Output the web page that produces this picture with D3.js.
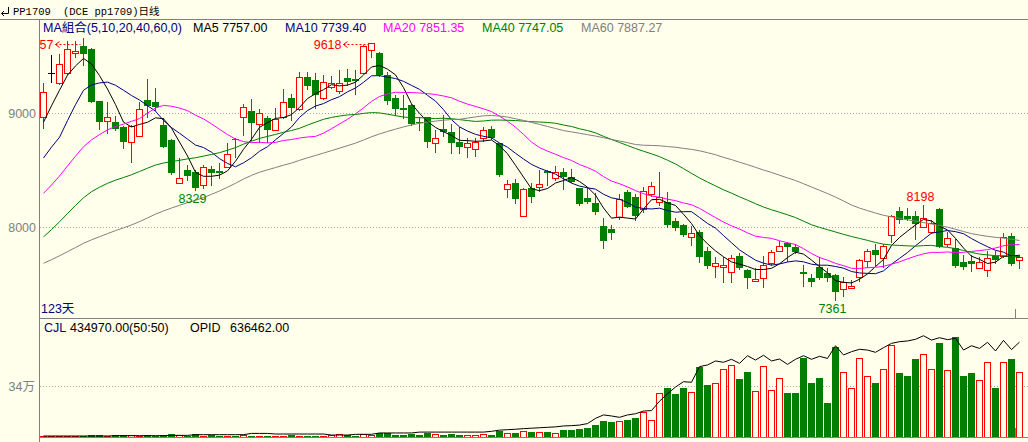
<!DOCTYPE html>
<html><head><meta charset="utf-8">
<script src="https://cdn.jsdelivr.net/npm/d3@7"></script>
<style>html,body{margin:0;padding:0;background:#FFFFEB;}svg{display:block}</style>
</head><body>
<svg id="c" width="1028" height="442"></svg>
<script>
// ---------------- data ----------------
const opens = [8970,9351,9268,9351,9530,9590,9564,9108,8935,8921,8882,8751,8804,9117,9102,8897,8766,8386,8503,8488,
8371,8509,8494,8532,8775,8965,9020,8904,8956,8853,8965,9132,9035,9316,9292,9132,9228,9198,9313,9300,
9356,9555,9532,9336,9132,9049,9073,8925,8965,8737,8862,8839,8751,8707,8684,8780,8862,8737,8333,8386,
8102,8342,8356,8494,8430,8488,8439,8342,8260,8216,8011,7985,8093,8312,8263,8158,8289,8225,8225,8058,
8023,7912,7961,7792,7663,7655,7611,7748,7626,7532,7553,7684,7795,7860,7830,7608,7553,7649,7602,7580,
7459,7470,7567,7705,7801,7728,7933,8143,8099,8099,8005,7961,8161,7853,7821,7693,7707,7646,7626,7748,
7748,7924,7715];
const highs = [9268,9511,9520,9634,9630,9657,9570,9110,9102,8980,8890,8895,9100,9298,9219,8960,8770,8605,8546,8505,
8550,8540,8567,8737,8780,9082,9123,9040,8975,9050,9210,9170,9360,9360,9356,9340,9330,9380,9390,9380,
9595,9618,9540,9365,9160,9160,9080,8965,8970,8853,8985,8905,8880,8780,8780,8880,8890,8740,8415,8421,
8345,8386,8500,8505,8540,8520,8510,8345,8342,8300,8079,8020,8290,8330,8290,8350,8400,8488,8310,8080,
8030,8011,7975,7830,7737,7737,7760,7770,7630,7640,7750,7800,7880,7875,7850,7670,7590,7743,7640,7590,
7560,7540,7720,7810,7850,7850,8110,8180,8170,8140,8198,8060,8165,7960,7900,7760,7760,7740,7790,7790,
7947,7950,7757];
const lows = [8874,9277,9257,9345,9497,9424,9095,8862,8825,8855,8696,8575,8800,8970,9029,8700,8470,8386,8415,8329,
8345,8370,8430,8525,8616,8810,8766,8750,8750,8850,8960,8940,9030,9210,9044,9125,9220,9181,9250,9170,
9350,9497,9330,9082,8985,8960,8900,8853,8707,8663,8800,8650,8650,8619,8625,8760,8775,8450,8268,8210,
8100,8225,8320,8370,8415,8340,8395,8195,8210,8120,7816,7895,8070,8175,8060,8130,8270,8195,8000,7980,
7920,7844,7698,7640,7567,7523,7520,7630,7465,7525,7480,7670,7790,7700,7770,7486,7486,7550,7530,7361,
7395,7465,7530,7650,7670,7649,7870,8040,8060,7895,8000,7950,7825,7840,7655,7630,7620,7640,7570,7690,
7740,7670,7640];
const closes = [9189,9351,9430,9561,9545,9520,9102,8926,8970,8862,8751,8891,9038,9064,9058,8707,8479,8430,8453,8342,
8532,8479,8479,8640,8765,9058,8918,9000,8853,8947,9096,9044,9316,9242,9161,9272,9263,9263,9277,9285,
9590,9614,9336,9108,9038,9029,8906,8915,8751,8780,8839,8737,8707,8737,8751,8853,8780,8459,8380,8248,
8333,8268,8377,8474,8488,8444,8400,8202,8225,8137,7882,7953,8248,8181,8099,8318,8362,8268,8020,7991,
7930,7953,7737,7661,7684,7670,7728,7640,7558,7550,7670,7781,7839,7830,7786,7588,7518,7553,7558,7435,
7523,7488,7714,7792,7758,7836,8102,8064,8070,8029,8079,8035,7830,7909,7661,7655,7675,7693,7728,7714,
7918,7678,7740];
// closes before the first visible day (estimated from where the MA lines start)
const priorCloses = [7450,7400,7380,7350,7300,7280,7300,7320,7290,7300,7380,
7250,7150,7050,7000,6980,7000,7050,7080,7100,
6800,6700,6650,6700,6850,6960,
7350,7600,7750,7850,7900,7900,7912,
7950,7980,8000,7970,7950,7950,7949,
7900,7850,7800,7820,7860,7901,
8000,8150,8250,8350,8400,8566,
8100,8150,8254,8630,
8750,8900,9140];
const volumes = [7000,7000,7000,7000,7000,7000,13000,13000,7000,13000,
13000,13000,7000,13000,7000,13000,20000,13000,9000,20000,
9000,13000,9000,9000,9000,13000,9000,9000,9000,9000,
9000,13000,9000,4000,9000,9000,13000,20000,13000,9000,
20000,13000,29000,29000,13000,13000,20000,13000,29000,20000,
13000,20000,13000,13000,13000,20000,13000,42000,25000,27000,
38000,34000,31000,34000,25000,47000,47000,54000,60000,80000,
107000,101000,105000,114000,127000,165000,112000,293000,329000,288000,
329000,300000,472000,349000,360000,454000,481000,389000,436000,306000,
474000,313000,393000,295000,295000,530000,362000,396000,228000,603000,
434000,326000,527000,407000,362000,454000,615000,429000,409000,523000,
554000,456000,630000,447000,671000,409000,429000,380000,501000,329000,
501000,523000,434970];
const openInterest = [6700,6700,6700,6700,6700,6700,6700,6700,6700,8900,
8900,8900,8900,8900,8900,8900,11000,11000,11000,15600,
15600,15600,15600,15600,15600,15600,24000,24000,24000,20000,
20000,20000,20000,20000,20000,20000,13000,13000,13000,18000,
18000,18000,27000,27000,27000,27000,27000,33000,33000,33000,
33000,33000,33000,33000,33000,33000,38000,46000,49000,52000,
56000,59000,62000,65000,68000,74000,76000,80000,90000,125000,
148000,141000,132000,148000,156000,174000,177000,240000,290000,335000,
371000,367000,472000,483000,510000,501000,521000,494000,545000,516000,
548000,510000,523000,487000,521000,545000,521000,541000,527000,612000,
550000,572000,588000,583000,568000,599000,628000,639000,644000,655000,
679000,650000,666000,653000,662000,583000,612000,594000,635000,577000,
648000,586000,636462];
const maPeriods = [5,10,20,40,60];
const maColors = ["#000000","#000080","#FF00FF","#008000","#808080"];
const maHeaderValues = ["7757.00","7739.40","7851.35","7747.05","7887.27"];
const priceTicks = [8000,9000];
const volTicks = [340000];
const volTickLabels = ["34万"];
const highLabelsArrow = [5,41];   // candle indices
const highLabelsAbove = [110];
const lowLabelsBelow = [19,99];
const titleSymbol = "PP1709", titleDesc = "(DCE pp1709)日线";
const cjlText = "434970.00(50:50)", opidText = "636462.00", daysText = "123天";

// ---------------- drawing ----------------
const BG = "#FFFFEB", RED = "#FF0000", GREEN = "#007F00", GRID = "#A8A8A8", AXIS = "#808080";
const FONT = "'Liberation Sans', Arial, 'Noto Sans CJK SC', sans-serif";
const svg = d3.select("#c");
svg.append("rect").attr("width",1028).attr("height",442).attr("fill",BG);
const n = closes.length;
const x = d3.scaleLinear().domain([0,n-1]).range([43.5,1019.5]);
const y = d3.scaleLinear().domain([7204,9827]).range([318,19]);
const yv = d3.scaleLinear().domain([0,798000]).range([437,318]);

const defs = svg.append("defs");
defs.append("clipPath").attr("id","mainClip").append("rect").attr("x",40).attr("y",20).attr("width",988).attr("height",298);
defs.append("clipPath").attr("id","volClip").append("rect").attr("x",40).attr("y",319).attr("width",988).attr("height",118);
defs.append("clipPath").attr("id","labClip").append("rect").attr("x",40).attr("y",20).attr("width",988).attr("height",298);

// grid lines
svg.selectAll("line.pg").data(priceTicks).join("line").attr("class","pg")
  .attr("x1",40).attr("x2",1028).attr("y1",d=>Math.round(y(d))+0.5).attr("y2",d=>Math.round(y(d))+0.5)
  .attr("stroke",GRID).attr("stroke-dasharray","1,2");
svg.selectAll("text.pt").data(priceTicks).join("text").attr("class","pt")
  .attr("x",36).attr("y",d=>Math.round(y(d))+4.5).attr("text-anchor","end")
  .attr("font-family",FONT).attr("font-size",12.5).attr("fill",AXIS).text(d=>d);
svg.selectAll("line.vg").data(volTicks).join("line").attr("class","vg")
  .attr("x1",40).attr("x2",1028).attr("y1",d=>Math.round(yv(d))+0.5).attr("y2",d=>Math.round(yv(d))+0.5)
  .attr("stroke",GRID).attr("stroke-dasharray","1,2");
svg.selectAll("text.vt").data(volTicks).join("text").attr("class","vt")
  .attr("x",35).attr("y",d=>Math.round(yv(d))+5).attr("text-anchor","end")
  .attr("font-family",FONT).attr("font-size",12.5).attr("fill",AXIS).text((d,i)=>volTickLabels[i]);

// frame lines
const frame = svg.append("g").attr("stroke",AXIS).attr("shape-rendering","crispEdges");
frame.append("line").attr("x1",0).attr("x2",1028).attr("y1",19.5).attr("y2",19.5);
frame.append("line").attr("x1",39.5).attr("x2",39.5).attr("y1",19.5).attr("y2",442);
frame.append("line").attr("x1",39.5).attr("x2",1028).attr("y1",318.5).attr("y2",318.5);
frame.append("line").attr("x1",39.5).attr("x2",1028).attr("y1",437.5).attr("y2",437.5);
// cursor marks at the last-but-one position
frame.append("line").attr("x1",x(n-1.5)).attr("x2",x(n-1.5)).attr("y1",309).attr("y2",318);
frame.append("line").attr("x1",x(n-1.5)).attr("x2",x(n-1.5)).attr("y1",428).attr("y2",437);

// candles
const idx = d3.range(n);
const cg = svg.append("g").attr("clip-path","url(#mainClip)").attr("shape-rendering","crispEdges");
const up = i => closes[i] > opens[i], flat = i => closes[i] === opens[i];
const colorOf = i => flat(i) ? "#000000" : (up(i) ? RED : GREEN);
const ry = v => Math.round(y(v));
// wicks
cg.selectAll("line.wk").data(idx).join("line").attr("class","wk")
  .attr("x1",i=>x(i)).attr("x2",i=>x(i))
  .attr("y1",i=>ry(highs[i])).attr("y2",i=>ry(lows[i])+1)
  .attr("stroke",i=>colorOf(i));
// bodies
cg.selectAll("rect.bd").data(idx).join("rect").attr("class","bd")
  .attr("x",i=> up(i) ? x(i)-3 : x(i)-3.5)
  .attr("y",i=> up(i) ? ry(closes[i])+0.5 : ry(Math.max(opens[i],closes[i])))
  .attr("width",i=> up(i) ? 6 : 7)
  .attr("height",i=> { const h = Math.abs(ry(opens[i])-ry(closes[i])); return up(i) ? Math.max(h,1) : Math.max(h,1); })
  .attr("fill",i=> up(i) ? BG : colorOf(i))
  .attr("stroke",i=> up(i) ? RED : "none");

// moving averages
const all = priorCloses.concat(closes), off = priorCloses.length;
const maSeries = maPeriods.map(p => closes.map((c,i)=> d3.mean(all.slice(i+off-p+1, i+off+1))));
const line = d3.line().x((d,i)=>x(i)).y(d=>y(d));
const mg = svg.append("g").attr("clip-path","url(#mainClip)");
mg.selectAll("path.ma").data(maSeries).join("path").attr("class","ma")
  .attr("d",line).attr("fill","none").attr("stroke",(d,i)=>maColors[i]).attr("stroke-width",1);

// high / low labels
const lg = svg.append("g").attr("clip-path","url(#labClip)").attr("font-family",FONT).attr("font-size",12.5);
highLabelsArrow.forEach(i=>{
  const yy = Math.max(y(highs[i]), 44) ;
  const cx = x(i);
  lg.append("text").attr("x",cx-30).attr("y",yy+4.5).attr("text-anchor","end").attr("fill",RED).text(highs[i]);
  lg.append("path").attr("d",`M${cx-28},${Math.round(yy)+0.5} l4,-3 M${cx-28},${Math.round(yy)+0.5} l4,3`).attr("stroke",RED).attr("fill","none");
  lg.append("line").attr("x1",cx-28).attr("x2",cx-3).attr("y1",Math.round(yy)+0.5).attr("y2",Math.round(yy)+0.5)
    .attr("stroke",RED).attr("stroke-dasharray","2,2");
});
highLabelsAbove.forEach(i=>{
  lg.append("text").attr("x",x(i)-3).attr("y",y(highs[i])-3.5).attr("text-anchor","middle").attr("fill",RED).text(highs[i]);
});
lowLabelsBelow.forEach(i=>{
  lg.append("text").attr("x",x(i)-3).attr("y",y(lows[i])+13).attr("text-anchor","middle").attr("fill",GREEN).text(lows[i]);
});

// volume bars
const vg = svg.append("g").attr("clip-path","url(#volClip)").attr("shape-rendering","crispEdges");
const base = Math.round(yv(0));
vg.selectAll("rect.vb").data(idx).join("rect").attr("class","vb")
  .attr("x",i=> closes[i]>=opens[i] ? x(i)-3 : x(i)-3.5)
  .attr("y",i=> closes[i]>=opens[i] ? Math.round(yv(volumes[i]))+0.5 : Math.round(yv(volumes[i])))
  .attr("width",i=> closes[i]>=opens[i] ? 6 : 7)
  .attr("height",i=> Math.max(1, base - Math.round(yv(volumes[i])) - (closes[i]>=opens[i] ? 0.5 : 0)))
  .attr("fill",i=> closes[i]>=opens[i] ? BG : GREEN)
  .attr("stroke",i=> closes[i]>=opens[i] ? RED : "none");
// open interest line
svg.append("g").attr("clip-path","url(#volClip)").append("path")
  .datum(openInterest).attr("d",d3.line().x((d,i)=>x(i)).y(d=>yv(d)))
  .attr("fill","none").attr("stroke","#000").attr("stroke-width",1);

// title bar
svg.append("path").attr("d","M8.5,7 V13.5 H1.5 M1.5,13.5 l2.5,-2.5 M1.5,13.5 l2.5,2.5").attr("stroke","#000").attr("fill","none");
const MONO = "'Liberation Mono', 'DejaVu Sans Mono', 'Noto Sans CJK SC', monospace";
svg.append("text").attr("x",13).attr("y",15).attr("font-family",MONO).attr("font-size",10.5).attr("fill","#000").text(titleSymbol);
svg.append("text").attr("x",63).attr("y",15).attr("font-family",MONO).attr("font-size",10.5).attr("fill","#000").text(titleDesc);

// MA header
const hdr = svg.append("g").attr("font-family",FONT).attr("font-size",12.5);
hdr.append("text").attr("x",43).attr("y",32).attr("fill","#000080").text("MA組合(" + maPeriods.join(",") + ",0)");
const hdrX = [193,285,383,482,581];
maPeriods.forEach((p,i)=>{
  hdr.append("text").attr("x",hdrX[i]).attr("y",32).attr("fill",maColors[i]).text("MA"+p+" "+maHeaderValues[i]);
});
// days text
svg.append("text").attr("x",41).attr("y",313).attr("font-family",FONT).attr("font-size",12.5).attr("fill","#000080").text(daysText);
// volume header
const vh = svg.append("g").attr("font-family",FONT).attr("font-size",12.5);
vh.append("text").attr("x",44).attr("y",332).attr("fill","#000080").text("CJL");
vh.append("text").attr("x",70).attr("y",332).attr("fill","#000").text(cjlText);
vh.append("text").attr("x",190).attr("y",332).attr("fill","#000").text("OPID");
vh.append("text").attr("x",230).attr("y",332).attr("fill","#000").text(opidText);
</script>
</body></html>
